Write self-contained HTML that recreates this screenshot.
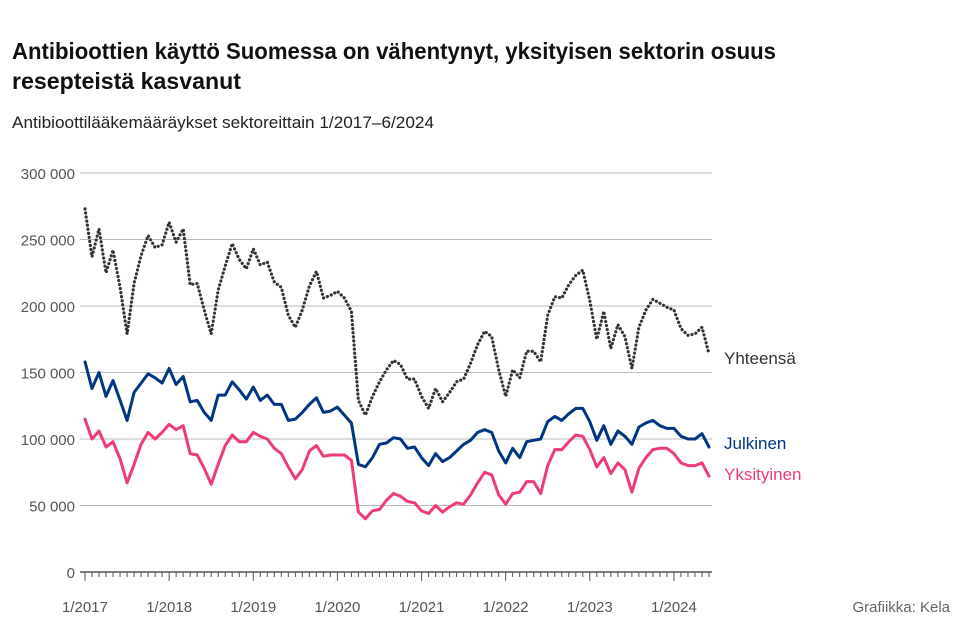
<!DOCTYPE html>
<html><head><meta charset="utf-8"><style>
body{margin:0;background:#fff;font-family:"Liberation Sans",sans-serif;}
svg{display:block}
</style></head><body>
<svg id="chart" width="960" height="643" viewBox="0 0 960 643">
<text x="12" y="59" font-size="23" font-weight="bold" fill="#111" textLength="764" lengthAdjust="spacingAndGlyphs">Antibioottien käyttö Suomessa on vähentynyt, yksityisen sektorin osuus</text>
<text x="12" y="89" font-size="23" font-weight="bold" fill="#111" textLength="229" lengthAdjust="spacingAndGlyphs">resepteistä kasvanut</text>
<text x="12" y="128" font-size="17" fill="#222" textLength="422" lengthAdjust="spacingAndGlyphs">Antibioottilääkemääräykset sektoreittain 1/2017–6/2024</text>
<g id="grid"></g><g id="series"></g><g id="xaxis"></g>
<text x="950" y="612" font-size="15" fill="#666" text-anchor="end">Grafiikka: Kela</text>
</svg>
<script>
const yTicks=[0,50000,100000,150000,200000,250000,300000];
const yTickLabels=["0","50 000","100 000","150 000","200 000","250 000","300 000"];
const yearLabels=["1/2017","1/2018","1/2019","1/2020","1/2021","1/2022","1/2023","1/2024"];
const yhteensa=[273,237,258,225,242,214,179,217,238,253,244,246,263,248,258,216,217,197,179,212,230,247,235,228,243,231,233,218,214,193,184,197,215,226,206,208,211,206,196,129,118,132,143,152,159,156,145,145,132,123,138,128,135,143,145,157,171,181,177,152,132,152,146,166,166,158,193,207,206,216,223,227,204,175,196,168,186,177,153,184,197,205,202,199,197,183,178,179,184,164];
const julkinen=[158,138,150,132,144,129,114,135,142,149,146,142,153,141,147,128,129,120,114,133,133,143,137,130,139,129,133,126,126,114,115,120,126,131,120,121,124,118,112,81,79,86,96,97,101,100,93,94,86,80,89,83,86,91,96,99,105,107,105,91,82,93,86,98,99,100,113,117,114,119,123,123,113,99,110,96,106,102,96,109,112,114,110,108,108,102,100,100,104,94];
const yksityinen=[115,100,106,94,98,85,67,81,96,105,100,105,111,107,110,89,88,78,66,81,95,103,98,98,105,102,100,93,89,79,70,77,91,95,87,88,88,88,84,45,40,46,47,54,59,57,53,52,46,44,50,45,49,52,51,58,67,75,73,58,51,59,60,68,68,59,80,92,92,98,103,102,92,79,86,74,82,77,60,78,86,92,93,93,89,82,80,80,82,72];
const NS="http://www.w3.org/2000/svg";
const x0=85,x1=709,yb=572,yt=173;
const xs=i=>x0+(x1-x0)*i/89;
const ys=v=>yb-(yb-yt)*v/300000;
const grid=document.getElementById('grid'),ser=document.getElementById('series'),xa=document.getElementById('xaxis');
function mk(tag,attrs,parent){const e=document.createElementNS(NS,tag);for(const k in attrs)e.setAttribute(k,attrs[k]);parent.appendChild(e);return e;}
yTicks.forEach((t,i)=>{
  const l=mk('line',{x1:80,x2:712,y1:ys(t),y2:ys(t),stroke:i===6?'#ddd':'#bbb','stroke-width':i===6?2:1},grid);
  
  
  const tx=mk('text',{x:75,y:ys(t)+6,'font-size':15,fill:'#555','text-anchor':'end'},grid);
  tx.textContent=yTickLabels[i];
  
  
});
const ax=mk('line',{x1:80,x2:712,y1:yb,y2:yb,stroke:'#555','stroke-width':1.5},xa);


for(let i=0;i<90;i++){
  const big=i%12===0;
  const tk=mk('line',{x1:xs(i),x2:xs(i),y1:yb,y2:yb+(big?9:5),stroke:'#555','stroke-width':1},xa);
  
  
  if(big){
    const tx=mk('text',{x:xs(i),y:612,'font-size':15,fill:'#555','text-anchor':'middle'},xa);
    tx.textContent=yearLabels[i/12];
    
    
  }
}
function line(data,color,dash,name,label,ly){
  const d=data.map((v,i)=>(i?'L':'M')+xs(i).toFixed(1)+' '+ys(v*1000).toFixed(1)).join('');
  const p=mk('path',{d:d,fill:'none',stroke:color,'stroke-width':dash?3.2:3,'stroke-linejoin':'round','stroke-linecap':'round'},ser);
  if(dash){p.setAttribute('stroke-dasharray','0.1 4');}
  
  
  const t=mk('text',{x:724,y:ly,'font-size':17,fill:color},ser);
  t.textContent=label;
  
  
}
line(yhteensa,'#333',true,'yhteensa-line','Yhteensä',364);
line(julkinen,'#003580',false,'julkinen-line','Julkinen',449);
line(yksityinen,'#ec3c7a',false,'yksityinen-line','Yksityinen',480);
</script>
</body></html>
